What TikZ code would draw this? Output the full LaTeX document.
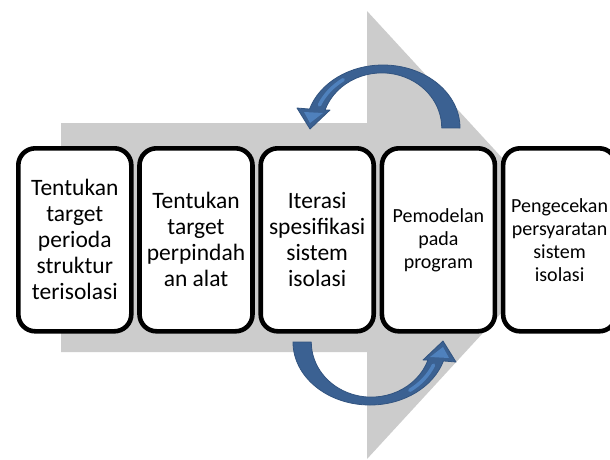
\documentclass[tikz,border=0pt]{standalone}
\usepackage{fontspec}
\setmainfont{Carlito}
\definecolor{arrowgray}{RGB}{204,204,204}
\definecolor{darkblue}{RGB}{59,97,146}
\definecolor{edgeblue}{RGB}{50,84,128}
\definecolor{lightblue}{RGB}{79,129,189}
\begin{document}
\begin{tikzpicture}[x=1pt,y=-1pt,
  stepbox/.style={draw=black, line width=4.6pt, fill=white, rounded corners=17pt,
    minimum width=113pt, minimum height=183pt, inner sep=0pt, align=center, anchor=north west},
  bigtext/.style={font=\fontsize{23.5}{26}\selectfont},
  smalltext/.style={font=\fontsize{20}{23}\selectfont},
  curvearrow/.style={fill=darkblue, draw=edgeblue, line width=0.8pt, line join=round},
  highlight/.style={draw=lightblue, line width=3.5pt, line cap=round}]
\clip (0,0) rectangle (610,459);
\fill[white] (0,0) rectangle (610,459);
% big gray arrow
\fill[arrowgray] (61,123) -- (367,123) -- (367,11) -- (573,235) -- (367,459) -- (367,352) -- (61,352) -- cycle;
% curved arrows
\def\curvepath{(460,128) arc[start angle=0, end angle=-162.5, x radius=77, y radius=63]
  -- (297,108) -- (310,129) -- (330,110) -- (325,110)
  arc[start angle=-161, end angle=0, x radius=60, y radius=55] -- cycle}
\path[curvearrow] \curvepath;
\draw[highlight] (382.5,128) ++(-125:68.5 and 59) arc[start angle=-125, end angle=-157, x radius=68.5, y radius=59];
\fill[lightblue] (304,112) -- (310,123) -- (323,113) -- cycle;
\begin{scope}[rotate around={180:(376.5,235)}]
\path[curvearrow] \curvepath;
\draw[highlight] (382.5,128) ++(-125:68.5 and 59) arc[start angle=-125, end angle=-157, x radius=68.5, y radius=59];
\fill[lightblue] (304,112) -- (310,123) -- (323,113) -- cycle;
\end{scope}
% boxes
\node[stepbox, bigtext] (b1) at (16,146) {Tentukan\\target\\perioda\\struktur\\terisolasi};
\node[stepbox, bigtext] (b2) at (137.2,146) {Tentukan\\target\\perpindah\\an alat};
\node[stepbox, bigtext] (b3) at (258.4,146) {Iterasi\\spesifikasi\\sistem\\isolasi};
\node[stepbox, smalltext] (b4) at (379.6,146) {Pemodelan\\pada\\program};
\node[stepbox, smalltext] (b5) at (500.8,146) {Pengecekan\\persyaratan\\sistem\\isolasi};
\end{tikzpicture}
\end{document}
